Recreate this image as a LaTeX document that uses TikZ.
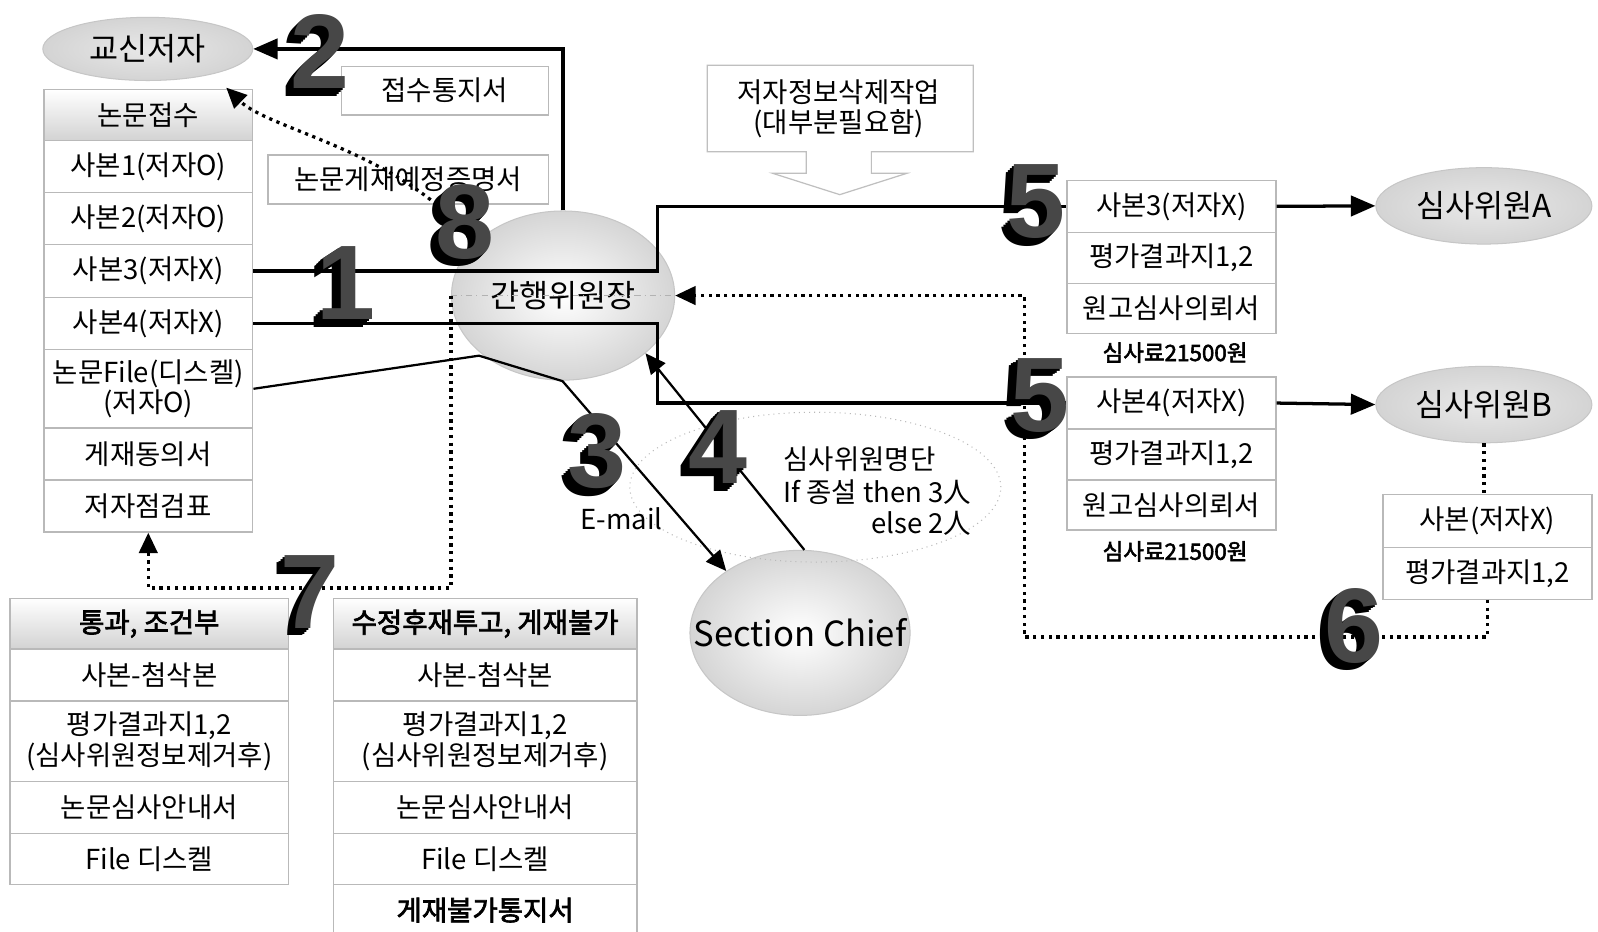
\documentclass[tikz,border=0pt]{standalone}
\usepackage{fontspec}
\setmainfont{Noto Sans CJK KR}[AutoFakeBold=2.5]
\newfontfamily\digitfont{Liberation Sans}
\usetikzlibrary{shapes.geometric,arrows.meta,calc}
\tikzset{
  cell/.style={draw=gray!55, line width=0.7pt, fill=white, inner sep=0pt, align=center,
    font=\fontsize{13.5}{15}\selectfont},
  hdr/.style={cell, top color=white, bottom color=gray!35},
  hdrb/.style={hdr, font=\bfseries\fontsize{13.5}{15}\selectfont},
  cellb/.style={cell, font=\bfseries\fontsize{13.5}{15}\selectfont},
  flatell/.style={ellipse, draw=gray!45, line width=0.5pt, inner sep=0pt, inner xsep=-20pt,
    inner color=gray!18, outer color=gray!34, font=\fontsize{15.5}{18}\selectfont},
  ballell/.style={ellipse, draw=gray!45, line width=0.5pt, inner sep=0pt, inner xsep=-20pt,
    inner color=white, outer color=gray!33, font=\fontsize{15.5}{18}\selectfont},
  thickline/.style={line width=1.6pt, black},
  thinline/.style={line width=1.1pt, black},
  dotline/.style={line width=1.6pt, dash pattern=on 1.6pt off 2.2pt, black},
  tipbig/.style={-{Triangle[length=12pt,width=10pt]}},
  tipmid/.style={-{Triangle[length=10pt,width=9pt]}},
  numfg/.style={font=\digitfont\bfseries\fontsize{52}{52}\selectfont, text=black!72, inner sep=0pt},
  numbk/.style={font=\digitfont\bfseries\fontsize{52}{52}\selectfont, text=black, inner sep=0pt},
  plain/.style={inner sep=0pt, font=\fontsize{13.5}{15.5}\selectfont},
}
\newcommand\cellnode[7]{%
  \pgfmathsetmacro\cellW{(#5-#3)*0.5}%
  \pgfmathsetmacro\cellH{(#6-#4)*0.5}%
  \pgfmathsetmacro\cellX{(#3+#5)/2}%
  \pgfmathsetmacro\cellY{(#4+#6)/2}%
  \node[#2, minimum width=\cellW pt, minimum height=\cellH pt] (#1) at (\cellX,\cellY) {#7};}
\newcommand\bignum[4]{%
  \foreach \k in {1,...,4}{\node[numbk] (#1s\k) at ({#2+4-\k*2},{#3-4+\k*1.8}) {#4};}
  \node[numfg] (#1) at ({#2+4},{#3-4}) {#4};}
\begin{document}
\begin{tikzpicture}[x=0.5pt,y=-0.5pt]
\fill[white] (0,0) rectangle (1568,914);
\useasboundingbox (0,0) rectangle (1568,914);

% callout
\draw[gray!50, line width=0.6pt, fill=white] (694,64) -- (955,64) -- (955,149) -- (855,149) -- (855,170)
  -- (890,170) -- (824,191) -- (758,170) -- (791,170) -- (791,149) -- (694,149) -- cycle;
\node[plain, align=center, font=\fontsize{13.5}{14.5}\selectfont] (callt) at (823,107) {저자정보삭제작업\\(대부분필요함)};

% ellipses
\node[flatell, minimum width=103pt, minimum height=31pt] (kj) at (145,48) {교신저자};
\node[ballell, minimum width=109.5pt, minimum height=83pt] (gw) at (552.5,290) {간행위원장};
\node[ballell, minimum width=108pt, minimum height=81pt, font=\fontsize{17}{19}\selectfont] (sc) at (785,621) {Section Chief};
\node[ellipse, draw=gray!55, line width=0.5pt, dotted, minimum width=182pt, minimum height=73.5pt] (ann) at (800,478) {};
\node[flatell, minimum width=106pt, minimum height=37.5pt] (rvA) at (1456,202) {심사위원A};
\node[flatell, minimum width=106pt, minimum height=37.5pt] (rvB) at (1456,397) {심사위원B};

% left stack
\cellnode{h0}{hdr}{43}{88}{248}{138}{논문접수}
\cellnode{s1}{cell}{43}{138}{248}{189}{사본1(저자O)}
\cellnode{s2}{cell}{43}{189}{248}{240}{사본2(저자O)}
\cellnode{s3}{cell}{43}{240}{248}{292}{사본3(저자X)}
\cellnode{s4}{cell}{43}{292}{248}{343}{사본4(저자X)}
\cellnode{fl}{cell}{43}{343}{248}{420}{논문File(디스켈)\\(저자O)}
\cellnode{gd}{cell}{43}{420}{248}{471}{게재동의서}
\cellnode{ts}{cell}{43}{471}{248}{522}{저자점검표}

% notice boxes
\cellnode{jt}{cell}{335}{65}{538}{113}{접수통지서}
\cellnode{ng}{cell}{263}{152}{538}{200}{논문게재예정증명서}

% reviewer stacks
\cellnode{a1}{cell}{1047}{177}{1252}{228}{사본3(저자X)}
\cellnode{a2}{cell}{1047}{228}{1252}{278}{평가결과지1,2}
\cellnode{a3}{cell}{1047}{278}{1252}{327}{원고심사의뢰서}
\node[plain, font=\bfseries\fontsize{11}{13}\selectfont] (feeA) at (1153,346) {심사료21500원};
\cellnode{b1}{cell}{1047}{370}{1252}{421}{사본4(저자X)}
\cellnode{b2}{cell}{1047}{421}{1252}{471}{평가결과지1,2}
\cellnode{b3}{cell}{1047}{471}{1252}{520}{원고심사의뢰서}
\node[plain, font=\bfseries\fontsize{11}{13}\selectfont] (feeB) at (1153,541) {심사료21500원};
\cellnode{c1}{cell}{1357}{485}{1562}{537}{사본(저자X)}
\cellnode{c2}{cell}{1357}{537}{1562}{588}{평가결과지1,2}

% bottom stacks
\cellnode{p0}{hdrb}{10}{587}{283}{637}{통과, 조건부}
\cellnode{p1}{cell}{10}{637}{283}{688}{사본-첨삭본}
\cellnode{p2}{cell}{10}{688}{283}{767}{평가결과지1,2\\(심사위원정보제거후)}
\cellnode{p3}{cell}{10}{767}{283}{818}{논문심사안내서}
\cellnode{p4}{cell}{10}{818}{283}{868}{File 디스켈}
\cellnode{r0}{hdrb}{327}{587}{625}{637}{수정후재투고, 게재불가}
\cellnode{r1}{cell}{327}{637}{625}{688}{사본-첨삭본}
\cellnode{r2}{cell}{327}{688}{625}{767}{평가결과지1,2\\(심사위원정보제거후)}
\cellnode{r3}{cell}{327}{767}{625}{818}{논문심사안내서}
\cellnode{r4}{cell}{327}{818}{625}{868}{File 디스켈}
\cellnode{r5}{cellb}{327}{868}{625}{918}{게재불가통지서}

% annotation texts
\node[plain] (annt) at (861,486) {\begin{tabular}{@{}l@{}}심사위원명단\\If 종설 then 3人\\\multicolumn{1}{@{}r@{}}{else 2人}\end{tabular}};
\node[plain] (em) at (610,509) {E-mail};

% coordinates
\coordinate (j1) at (645,0);
\coordinate (p1) at (470,349);
\coordinate (p2) at (552,374);
\coordinate (j6) at (1005,625);
\coordinate (j7) at (440,577);
\coordinate (c8e) at (222,86);

% connectors
\draw[gray!60, line width=0.5pt, dash dot] (gw.west) -- (gw.east);
\draw[thickline, tipbig] (gw.north) |- (kj.east);
\draw[thickline] (s3.east) -- (s3.east -| j1) |- (a1.west);
\draw[thickline] (s4.east) -- (s4.east -| j1) |- (b1.west);
\draw[thickline, tipbig] (a1.east) -- (rvA.west);
\draw[thickline, tipbig] (b1.east) -- (rvB.west);
\draw[thinline, tipmid] (fl.east) -- (p1) -- (p2) -- (sc.140);
\draw[thinline, tipmid] (sc.87) -- (gw.-35);
\draw[dotline] (rvB.south) -- (rvB.south |- c1.north);
\draw[dotline, tipmid] (c2.south) |- (j6) |- (gw.east);
\draw[dotline, tipmid] (gw.west) |- (j7) -| (ts.south);
\draw[dotline, tipmid] (gw.150) .. controls (400,150) and (265,128) .. (c8e);

% step numbers
\bignum{n2}{310}{55}{2}
\bignum{n8}{452}{222}{8}
\bignum{n1}{335}{282}{1}
\bignum{n3}{582}{447}{3}
\bignum{n4}{700}{443}{4}
\bignum{n5a}{1013}{202}{5}
\bignum{n5b}{1016}{392}{5}
\bignum{n6}{1325}{618}{6}
\bignum{n7}{300}{585}{7}
\end{tikzpicture}
\end{document}
